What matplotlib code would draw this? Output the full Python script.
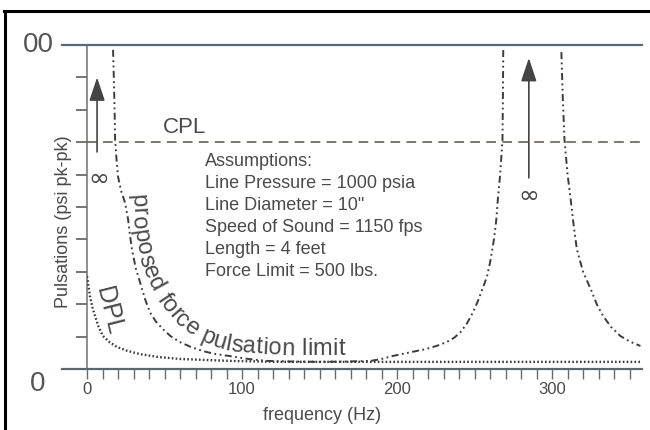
import numpy as np
import matplotlib
matplotlib.use("Agg")
import matplotlib.pyplot as plt
from matplotlib.lines import Line2D
from matplotlib.font_manager import FontProperties

plt.rcParams['font.family'] = ['Liberation Sans', 'DejaVu Sans']
plt.rcParams['lines.scale_dashes'] = False

# ---------------- data ----------------
freq_force_low = [16.8, 17.3, 17.8, 18.1, 19.0, 20.0, 22.0, 24.5, 26.5, 27.8, 29.0, 31.5, 34.2,
                  37.5, 40.6, 44.5, 49.0, 54, 60, 67, 75, 83, 92, 104, 116, 133, 150, 167,
                  183, 190, 197, 208, 219, 226, 232, 237, 241, 245, 249, 252, 255, 258, 260,
                  262.5, 264, 265, 266.5, 268, 268.3, 268.5]
puls_force_low = [98.5, 90, 80, 71, 65, 59.4, 55, 51.4, 46.2, 41, 36.9, 31, 26.8,
                  21.5, 17.5, 14.6, 12.3, 10.1, 8.3, 6.8, 5.5, 4.6, 4.0, 3.1, 2.5, 2.3, 2.2, 2.3,
                  2.5, 3.1, 4.0, 5.1, 6.2, 7.2, 8.3, 9.7, 11.4, 14.0, 17.5, 20.8, 24.6, 28.5, 32.9,
                  40, 46, 52.3, 60, 70.8, 85, 98.5]

freq_force_high = [306, 306.8, 308, 310, 312, 314, 316, 320, 325, 329, 333, 338, 344, 350, 357]
puls_force_high = [97.8, 85, 70.8, 60, 52.3, 44, 36.9, 30, 24.6, 19.8, 16.3, 13.0, 10.2, 8.5, 7.1]

freq_dpl = [0, 1, 1.9, 3.5, 5.2, 7.5, 10.3, 14.5, 19.4, 26, 34.2, 46, 60, 76, 92, 125, 200, 280, 358]
puls_dpl = [28.6, 25.5, 22.5, 19, 16.3, 13, 10.2, 8.3, 6.8, 5.6, 4.6, 3.7, 3.1, 2.8, 2.5, 2.2, 2.2, 2.2, 2.2]

cpl_level = 70
x_limits = (0, 358)
y_limits = (0, 100)
x_major_ticks = [0, 100, 200, 300]
x_minor_ticks = list(range(0, 360, 10))
y_minor_ticks = list(range(0, 101, 10))

assumption_lines = ["Assumptions:",
                    "Line Pressure = 1000 psia",
                    "Line Diameter = 10\"",
                    "Speed of Sound = 1150 fps",
                    "Length = 4 feet",
                    "Force Limit = 500 lbs."]

curve_label = "proposed force pulsation limit"
curve_label_path_x = [28.4, 29.7, 32.3, 37.4, 45.2, 54.8, 65.2, 76.1, 89.0, 105.2, 131.0, 166.5]
curve_label_path_y = [53.7, 44.4, 36.1, 28.1, 21.3, 15.1, 10.8, 7.7, 5.9, 4.9, 4.3, 4.3]

# ---------------- figure ----------------
W, H = 650, 430
fig = plt.figure(figsize=(W / 100, H / 100), dpi=100)
fig.patch.set_facecolor('white')
L, R, T, B = 87, 642, 45, 369
ax = fig.add_axes([L / W, (H - B) / H, (R - L) / W, (B - T) / H])
ax.set_xlim(*x_limits)
ax.set_ylim(*y_limits)
for s in ax.spines.values():
    s.set_visible(False)

text_col = '#4a4a4a'
line_col = '#3c3c3c'
axis_col = '#5b6775'

# y axis line
ax.plot([0, 0], [0, 100], color='#707070', lw=1.1, clip_on=False, zorder=2)
# top and bottom horizontal lines extending left of the axis
ext = (62 - L) / (R - L)
ax.axhline(100, xmin=ext, xmax=1, color=axis_col, lw=1.6, clip_on=False, zorder=3)
ax.axhline(0, xmin=ext, xmax=1, color=axis_col, lw=1.6, clip_on=False, zorder=3)

# ticks
ax.set_xticks(x_minor_ticks)
ax.set_xticklabels([str(t) if t in x_major_ticks else '' for t in x_minor_ticks])
ax.tick_params(axis='x', direction='out', length=7, width=1.0, color='#6a6a6a',
               labelsize=12, labelcolor=text_col, pad=2)
ax.set_yticks(y_minor_ticks)
ax.set_yticklabels([])
ax.tick_params(axis='y', direction='out', length=8, width=1.3, color='#6a6a6a')

# big axis end labels (scan-cropped "100" and "0")
ax.text((38 - L) / (R - L), 100, "00", transform=ax.get_yaxis_transform(),
        ha='center', va='center', fontsize=20, color='#555555')
ax.text((38 - L) / (R - L), -4.5, "0", transform=ax.get_yaxis_transform(),
        ha='center', va='center', fontsize=20, color='#555555')

# labels
ax.set_xlabel("frequency (Hz)", fontsize=13, color=text_col, va='top')
ax.xaxis.set_label_coords(151.6 / x_limits[1], (B - 407) / (B - T))
ax.set_ylabel("Pulsations (psi pk-pk)", fontsize=13, color=text_col, va='center')
ax.yaxis.set_label_coords((63 - L) / (R - L), (B - 222) / (B - T))

# curves
ax.plot(freq_force_low, puls_force_low, color=line_col, lw=1.4,
        dashes=(5, 2.5, 1.3, 2.5, 1.3, 2.5), clip_on=False, zorder=4)
ax.plot(freq_force_high, puls_force_high, color=line_col, lw=1.4,
        dashes=(5, 2.5, 1.3, 2.5, 1.3, 2.5), clip_on=False, zorder=4)
ax.plot(freq_dpl, puls_dpl, color=line_col, lw=1.7, dashes=(1.2, 1.6), zorder=4)
ax.axhline(cpl_level, color='#6e5e4e', lw=1.2, dashes=(7, 4.5), zorder=3)

# arrows and infinity signs
arrow_props = dict(arrowstyle='-|>,head_length=0.9,head_width=0.3', lw=1.2,
                   color='#444444', mutation_scale=16, shrinkA=0, shrinkB=0)
ax.annotate('', xy=(6.5, 90), xytext=(6.5, 67), arrowprops=arrow_props)
ax.annotate('', xy=(285, 96), xytext=(285, 59), arrowprops=arrow_props)
ax.text(7.5, 58.5, "\u221e", ha='center', va='center', fontsize=18, color='#444444',
        family=['DejaVu Sans'])
ax.text(285, 53.5, "\u221e", ha='center', va='center', fontsize=18, color='#444444',
        family=['DejaVu Sans'])

# text labels
ax.text(49, 72.8, "CPL", fontsize=16, color=text_col, ha='left', va='baseline')
ax.text(14.2, 17.9, "DPL", fontsize=18, color=text_col, ha='center', va='center',
        rotation=-76, rotation_mode='anchor')
base_x = 76.1
for i, line in enumerate(assumption_lines):
    yb = (B - (165.5 + 22 * i)) / 3.24
    ax.text(base_x, yb, line, fontsize=13, color=text_col, ha='left', va='baseline')

# curved label along the force curve
fig.canvas.draw()
renderer = fig.canvas.get_renderer()
fs = 17
prop = FontProperties(family=['Liberation Sans'], size=fs)
pts = ax.transData.transform(np.column_stack([curve_label_path_x, curve_label_path_y]))
seg = np.hypot(np.diff(pts[:, 0]), np.diff(pts[:, 1]))
cum = np.concatenate([[0], np.cumsum(seg)])
total_len = cum[-1]
widths = [renderer.get_text_width_height_descent(curve_label[:i], prop, ismath=False)[0]
          if i > 0 else 0.0 for i in range(len(curve_label) + 1)]
text_w = widths[-1]
stretch = total_len / text_w


def point_at(d):
    d = min(max(d, 0), total_len - 1e-6)
    k = np.searchsorted(cum, d, side='right') - 1
    k = min(k, len(seg) - 1)
    t = (d - cum[k]) / seg[k]
    return pts[k] + t * (pts[k + 1] - pts[k])


for i, ch in enumerate(curve_label):
    d0 = widths[i] * stretch
    w = widths[i + 1] - widths[i]
    p0 = point_at(d0)
    pa = point_at(d0 + w * 0.5 - 8)
    pb = point_at(d0 + w * 0.5 + 8)
    ang = np.degrees(np.arctan2(pb[1] - pa[1], pb[0] - pa[0]))
    fx, fy = fig.transFigure.inverted().transform(p0)
    fig.text(fx, fy, ch, fontproperties=prop, color=text_col, rotation=ang,
             rotation_mode='anchor', ha='left', va='baseline')

# scan frame (top and left border)
fig.add_artist(Line2D([4 / W, 1], [(H - 11) / H] * 2, transform=fig.transFigure,
                      color='black', lw=2.2))
fig.add_artist(Line2D([5 / W] * 2, [0, (H - 11) / H], transform=fig.transFigure,
                      color='black', lw=2.2))

fig.savefig("out.png", dpi=100, facecolor='white')
